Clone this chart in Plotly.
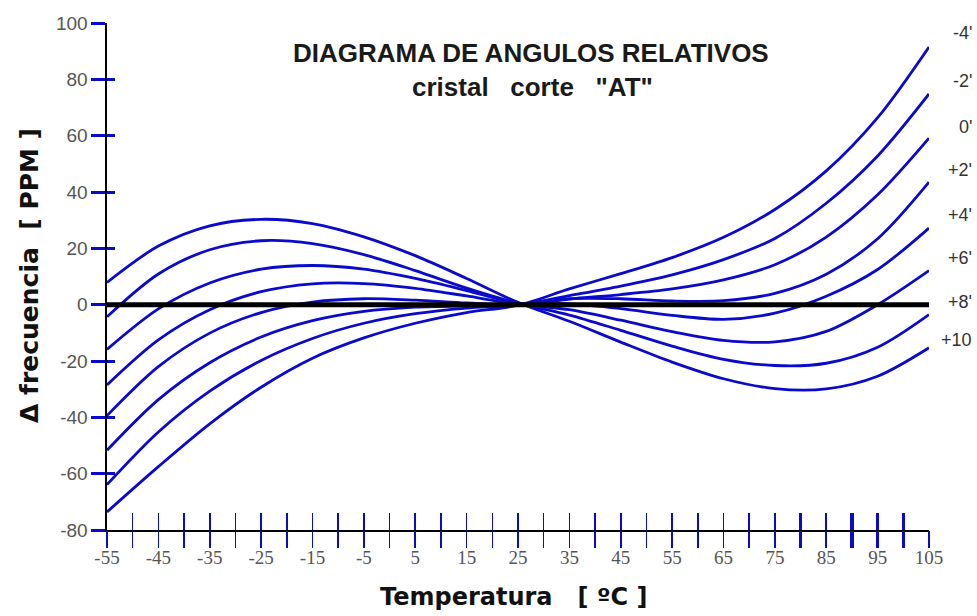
import plotly.graph_objects as go

# Temperature grid (degC)
temps = [-55, -45, -35, -25, -15, -5, 5, 15, 25, 35, 45, 55, 65, 75, 85, 95, 105]

# Frequency deviation (ppm) for each cut-angle curve
curve_m4 = [-73.6, -57.5, -42.3, -29.3, -19.0, -11.8, -6.6, -2.8, -0.2, 5.6, 11.0, 16.7, 23.9, 33.8, 47.5, 66.4, 91.5]
curve_m2 = [-63.9, -45.2, -30.7, -19.8, -12.0, -6.6, -3.2, -1.2, -0.1, 3.2, 6.6, 10.6, 16.0, 23.5, 36.0, 52.8, 74.8]
curve_0 = [-51.7, -33.7, -20.6, -11.5, -5.7, -2.4, -0.9, -0.4, -0.1, 2.0, 3.6, 5.6, 8.8, 14.2, 24.0, 39.0, 59.1]
curve_p2 = [-39.4, -22.0, -10.1, -2.8, 0.9, 2.1, 1.6, 0.6, 0.0, 2.1, 2.1, 1.3, 1.4, 4.0, 10.8, 23.4, 43.5]
curve_p4 = [-28.5, -12.5, -1.8, 4.6, 7.4, 7.5, 5.8, 3.1, 0.3, 0.3, -1.4, -3.8, -5.2, -3.0, 3.0, 12.5, 27.2]
curve_p6 = [-15.9, -1.5, 7.7, 12.6, 13.9, 12.6, 9.3, 5.0, 0.4, -1.8, -5.5, -9.6, -12.7, -13.2, -9.5, 0.0, 12.1]
curve_p8 = [-4.3, 10.9, 19.5, 22.7, 21.7, 17.8, 12.1, 5.9, 0.5, -3.7, -9.1, -14.7, -19.4, -21.6, -20.8, -15.1, -3.5]
curve_p10 = [7.9, 20.8, 28.0, 30.3, 28.8, 24.1, 17.4, 9.3, 0.8, -5.9, -13.3, -20.4, -26.3, -29.8, -29.9, -25.4, -15.3]

curves = [curve_m4, curve_m2, curve_0, curve_p2, curve_p4, curve_p6, curve_p8, curve_p10]
curve_labels = ["-4'", "-2'", "0'", "+2'", "+4'", "+6'", "+8'", "+10"]
label_y_px = [33, 81, 127, 170, 215, 258, 302, 340]

x_tick_vals = list(range(-55, 106, 5))
x_tick_text = [str(v) if (v + 55) % 10 == 0 else "" for v in x_tick_vals]
x_thick_ticks = [80, 90, 95, 100]
y_tick_vals = [-80, -60, -40, -20, 0, 20, 40, 60, 80, 100]
y_tick_text = [str(v) for v in y_tick_vals]

BLUE = "#0a0acd"
L, R, T, B = 107, 48, 23, 86
W, H = 977, 616
PW, PH = W - L - R, H - T - B


def px_x(px):
    return (px - L) / PW


def px_y(py):
    return (H - B - py) / PH


fig = go.Figure()
for name, vals in zip(curve_labels, curves):
    fig.add_trace(go.Scatter(x=temps, y=vals, mode="lines", name=name,
                             line=dict(color=BLUE, width=2.8, shape="spline", smoothing=0.9),
                             hoverinfo="skip", showlegend=False))

# dummy traces so overlay axes are drawn
for xa, ya in [("x2", "y"), ("x3", "y"), ("x4", "y"), ("x5", "y"), ("x", "y2")]:
    fig.add_trace(go.Scatter(x=[None], y=[None], xaxis=xa, yaxis=ya, showlegend=False, hoverinfo="skip"))

common_x = dict(range=[-55, 105], showgrid=False, zeroline=False, automargin=False, fixedrange=True)
fig.update_layout(
    width=W, height=H,
    margin=dict(l=L, r=R, t=T, b=B, autoexpand=False),
    paper_bgcolor="white", plot_bgcolor="white",
    xaxis=dict(**common_x, showline=True, linecolor="black", linewidth=1.6,
               ticks="outside", ticklen=10, tickwidth=1.6, tickcolor=BLUE,
               tickmode="array", tickvals=x_tick_vals, ticktext=x_tick_text,
               tickfont=dict(family="Liberation Serif", size=19, color="#555555")),
    xaxis2=dict(**common_x, overlaying="x", anchor="y", side="bottom", showline=False,
                ticks="inside", ticklen=17, tickwidth=1.6, tickcolor=BLUE,
                tickmode="array", tickvals=x_tick_vals, showticklabels=False),
    xaxis3=dict(**common_x, overlaying="x", anchor="y", side="bottom", showline=False,
                ticks="outside", ticklen=17, tickwidth=3.5, tickcolor=BLUE,
                tickmode="array", tickvals=x_thick_ticks, showticklabels=False),
    xaxis4=dict(**common_x, overlaying="x", anchor="y", side="bottom", showline=False,
                ticks="inside", ticklen=17, tickwidth=3.5, tickcolor=BLUE,
                tickmode="array", tickvals=x_thick_ticks, showticklabels=False),
    xaxis5=dict(**common_x, overlaying="x", anchor="y", side="bottom", showline=False,
                ticks="outside", ticklen=17, tickwidth=1.6, tickcolor=BLUE,
                tickmode="array", tickvals=x_tick_vals, showticklabels=False),
    yaxis=dict(range=[-80, 100], showgrid=False, zeroline=False, automargin=False, fixedrange=True,
               showline=True, linecolor="black", linewidth=1.6,
               ticks="outside", ticklen=14, tickwidth=3, tickcolor=BLUE,
               tickmode="array", tickvals=y_tick_vals, ticktext=y_tick_text,
               tickfont=dict(family="Liberation Sans", size=19, color="#555555")),
    yaxis2=dict(range=[-80, 100], overlaying="y", anchor="x", side="left", showgrid=False,
                zeroline=False, showline=False, automargin=False, fixedrange=True,
                ticks="inside", ticklen=8, tickwidth=3, tickcolor=BLUE,
                tickmode="array", tickvals=y_tick_vals, showticklabels=False),
    shapes=[dict(type="line", xref="paper", yref="y", x0=0, x1=1, y0=0, y1=0,
                 line=dict(color="black", width=5), layer="above")],
)

fig.add_annotation(text="<b>DIAGRAMA DE ANGULOS RELATIVOS</b>", xref="paper", yref="paper",
                   x=px_x(531), y=px_y(53), xanchor="center", yanchor="middle", showarrow=False,
                   font=dict(family="Liberation Sans", size=26, color="#1a1a1a"))
fig.add_annotation(text="<b>cristal\u00a0\u00a0\u00a0corte\u00a0\u00a0\u00a0\"AT\"</b>", xref="paper", yref="paper",
                   x=px_x(532), y=px_y(87), xanchor="center", yanchor="middle", showarrow=False,
                   font=dict(family="Liberation Sans", size=26, color="#1a1a1a"))

for lab, ly in zip(curve_labels, label_y_px):
    fig.add_annotation(text=lab, xref="paper", yref="paper", x=px_x(974), y=px_y(ly),
                       xanchor="right", yanchor="middle", showarrow=False,
                       font=dict(family="Liberation Sans", size=18, color="#333333"))

fig.add_annotation(text="<b>\u0394 frecuencia\u00a0\u00a0[ PPM ]</b>", xref="paper", yref="paper",
                   x=px_x(29), y=px_y(276), textangle=-90, xanchor="center", yanchor="middle",
                   showarrow=False, font=dict(family="DejaVu Sans", size=25, color="#111111"))
fig.add_annotation(text="<b>Temperatura\u00a0\u00a0\u00a0[ \u00baC ]</b>", xref="paper", yref="paper",
                   x=px_x(513), y=px_y(597), xanchor="center", yanchor="middle",
                   showarrow=False, font=dict(family="DejaVu Sans", size=24, color="#111111"))

fig.write_html("out.html",
               config={"displayModeBar": False, "staticPlot": True},
               post_script="document.body.style.margin='0';document.body.style.padding='0';"
                           "document.body.style.overflow='hidden';")
